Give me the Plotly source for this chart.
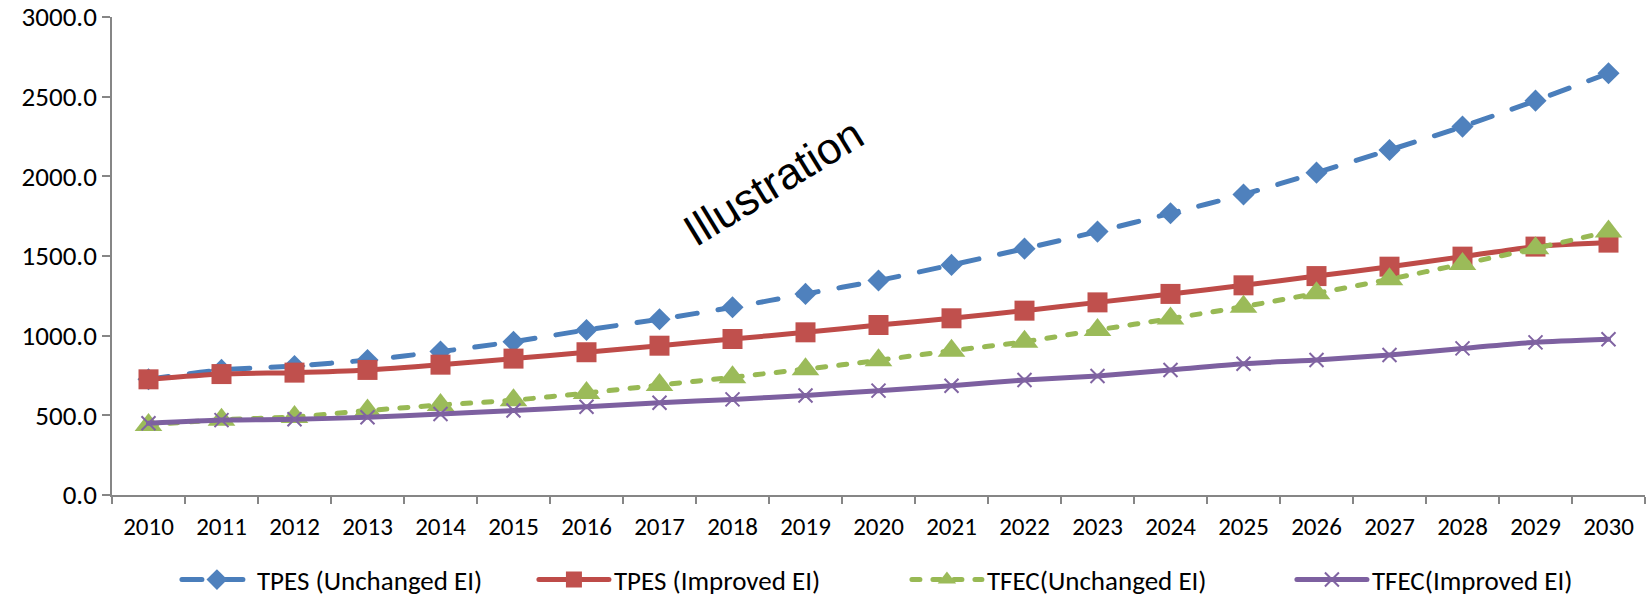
import plotly.graph_objects as go

years = [str(y) for y in range(2010, 2031)]

tpes_unchanged = [726, 785, 810, 847, 900, 962, 1036, 1103, 1178, 1262, 1346,
                  1444, 1546, 1653, 1768, 1886, 2023, 2165, 2312, 2475, 2647]
tpes_improved = [726, 759, 768, 785, 818, 856, 896, 937, 979, 1021, 1067,
                 1109, 1157, 1209, 1262, 1316, 1374, 1433, 1496, 1559, 1584]
tfec_unchanged = [440, 472, 490, 530, 565, 595, 640, 690, 739, 790, 845,
                  906, 962, 1036, 1107, 1182, 1266, 1354, 1450, 1548, 1653]
tfec_improved = [450, 470, 475, 488, 508, 530, 554, 579, 600, 625, 655,
                 686, 722, 747, 785, 824, 847, 879, 920, 958, 977]

FONT = "Carlito, Calibri, Lato, sans-serif"

series = [
    dict(name="TPES (Unchanged EI)", y=tpes_unchanged, line="#4A7EBB", fill="#4F81BD",
         dash="20px,21px", symbol="diamond", size=17, lw=272),
    dict(name="TPES (Improved EI)", y=tpes_improved, line="#BE4B48", fill="#C0504D",
         dash="solid", symbol="square", size=20, lw=288),
    dict(name="TFEC(Unchanged EI)", y=tfec_unchanged, line="#98B954", fill="#9BBB59",
         dash="8px,13px", symbol="triangle-up", size=24, lw=300),
    dict(name="TFEC(Improved EI)", y=tfec_improved, line="#7D60A0", fill="#8064A2",
         dash="solid", symbol="x-thin-open", size=14, lw=None),
]

fig = go.Figure()
for s in series:
    open_marker = s["symbol"].endswith("open")
    fig.add_trace(go.Scatter(
        x=years, y=s["y"], name=s["name"], mode="lines+markers",
        legendwidth=s["lw"],
        line=dict(color=s["line"], width=5, dash=s["dash"], shape="spline", smoothing=0.6),
        marker=dict(symbol=s["symbol"], size=s["size"], color=s["fill"],
                    line=dict(color=s["fill"], width=2 if open_marker else 0)),
    ))

fig.add_annotation(
    text="Illustration", xref="paper", yref="paper", x=0.4318, y=0.655,
    showarrow=False, textangle=-31.5,
    font=dict(family="'Liberation Sans', Arial, sans-serif", size=44, color="#000000"),
)

fig.update_layout(
    width=1652, height=602,
    margin=dict(l=112, r=7, t=17, b=107, autoexpand=False),
    paper_bgcolor="white", plot_bgcolor="white",
    font=dict(family=FONT, size=25, color="#000000"),
    showlegend=True,
    legend=dict(orientation="h", xref="container", yref="container",
                x=0.1071, xanchor="left", y=0.0365, yanchor="middle",
                font=dict(family=FONT, size=27, color="#000000"), itemwidth=70,
                traceorder="normal"),
    xaxis=dict(type="category", range=[-0.5, 20.5], tickson="boundaries",
               automargin=False,
               showline=True, linecolor="#868686", linewidth=1.5,
               ticks="outside", ticklen=7, tickcolor="#868686", tickwidth=1.5,
               ticklabelstandoff=8,
               showgrid=False, zeroline=False, tickfont=dict(family=FONT, size=25)),
    yaxis=dict(range=[0, 3000], dtick=500, tickformat=".1f",
               automargin=False,
               showline=True, linecolor="#868686", linewidth=1.5,
               ticks="outside", ticklen=8, tickcolor="#868686", tickwidth=1.5,
               showgrid=False, zeroline=False, tickfont=dict(family=FONT, size=27)),
)

round_caps = """
document.querySelectorAll('.js-line').forEach(function (p) {
  p.style.strokeLinecap = 'round';
});
"""
fig.write_html("out.html", post_script=round_caps)
